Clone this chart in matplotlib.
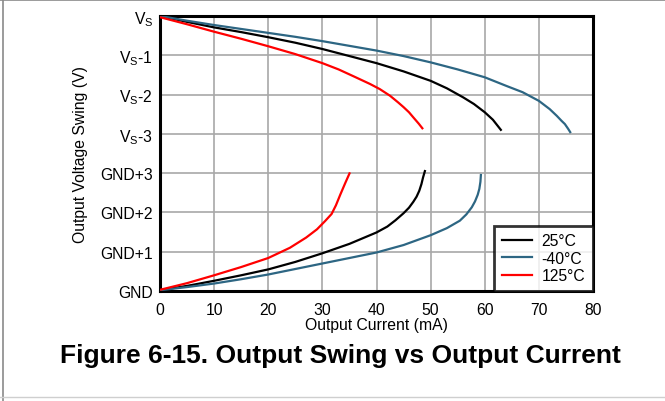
import matplotlib
matplotlib.use("Agg")
import matplotlib.pyplot as plt
from matplotlib.lines import Line2D

plt.rcParams['font.family'] = ['Liberation Sans', 'DejaVu Sans']
plt.rcParams['mathtext.fontset'] = 'custom'
plt.rcParams['mathtext.rm'] = 'Liberation Sans'

# ---- data (x: output current mA, y: 0=GND ... 7=Vs) ----
y_tick_labels = ['GND', 'GND+1', 'GND+2', 'GND+3',
                 r'V$_\mathregular{S}$-3', r'V$_\mathregular{S}$-2',
                 r'V$_\mathregular{S}$-1', r'V$_\mathregular{S}$']
x_ticks = [0, 10, 20, 30, 40, 50, 60, 70, 80]

# high side (sourcing)
hi_25_x = [0, 5, 10, 15, 20, 25, 30, 35, 40, 45, 50, 53, 56, 58, 60, 61.5, 63.1]
hi_25_y = [7.0, 6.85, 6.71, 6.59, 6.46, 6.32, 6.16, 5.98, 5.80, 5.59, 5.35, 5.16,
           4.93, 4.76, 4.55, 4.36, 4.08]
hi_m40_x = [0, 5, 10, 15, 20, 25, 30, 35, 40, 45, 50, 55, 60, 64, 67, 70, 72,
            73.3, 74.2, 74.8, 75.4, 75.9]
hi_m40_y = [7.0, 6.88, 6.77, 6.67, 6.57, 6.47, 6.36, 6.24, 6.12, 5.98, 5.82, 5.64,
            5.44, 5.22, 5.06, 4.84, 4.63, 4.46, 4.33, 4.25, 4.13, 4.02]
hi_125_x = [0, 5, 10, 15, 20, 25, 30, 33, 36, 38.8, 40.6, 42.5, 44, 45, 46, 46.8,
            47.8, 48.6]
hi_125_y = [6.97, 6.79, 6.60, 6.42, 6.23, 6.03, 5.80, 5.64, 5.45, 5.27, 5.14, 4.97,
            4.80, 4.68, 4.55, 4.42, 4.26, 4.12]

# low side (sinking)
lo_25_x = [0, 5, 10, 15, 20, 25, 30, 35, 40, 42, 43.5, 45, 46, 46.8, 47.4, 47.9,
           48.3, 48.6, 49.0]
lo_25_y = [0.02, 0.13, 0.26, 0.40, 0.55, 0.74, 0.96, 1.20, 1.49, 1.64, 1.80, 1.98,
           2.12, 2.27, 2.40, 2.55, 2.72, 2.89, 3.08]
lo_m40_x = [0, 5, 10, 15, 20, 25, 30, 35, 40, 45, 50, 53, 55.4, 56.6, 57.6, 58.2,
            58.7, 59.0, 59.2, 59.3]
lo_m40_y = [0.02, 0.10, 0.19, 0.30, 0.42, 0.56, 0.70, 0.84, 0.98, 1.17, 1.42, 1.60,
            1.79, 1.95, 2.13, 2.28, 2.45, 2.60, 2.78, 2.98]
lo_125_x = [0, 5, 10, 15, 20, 24, 27, 29, 30.5, 31.7, 32.5, 33.3, 34.2, 35.1]
lo_125_y = [0.03, 0.20, 0.40, 0.61, 0.84, 1.10, 1.36, 1.57, 1.78, 1.96, 2.18, 2.45,
            2.74, 3.02]

labels = ['25°C', '-40°C', '125°C']
colors = ['#000000', '#2d6683', '#ff0000']

W, H = 665, 402
FS = 11.3
fig = plt.figure(figsize=(W / 100, H / 100), dpi=100)
ax = fig.add_axes([160 / W, 1 - 292 / H, (593 - 160) / W, (292 - 17) / H])

series = [(hi_25_x, hi_25_y, lo_25_x, lo_25_y),
          (hi_m40_x, hi_m40_y, lo_m40_x, lo_m40_y),
          (hi_125_x, hi_125_y, lo_125_x, lo_125_y)]
for (hx, hy, lx, ly), c in zip(series, colors):
    for xs, ys in ((hx, hy), (lx, ly)):
        ax.plot(xs, ys, color=c, lw=1.6, zorder=3, solid_capstyle='butt',
                solid_joinstyle='round')

ax.set_xlim(0, 80)
ax.set_ylim(0, 7)
ax.set_xticks(x_ticks)
ax.set_xticklabels([str(v) for v in x_ticks], fontsize=FS)
ax.set_yticks(range(8))
ax.set_yticklabels(y_tick_labels, fontsize=FS)
ax.tick_params(axis='y', length=0, pad=5)
ax.tick_params(axis='x', length=0, pad=8)
ax.grid(True, color='#a8a8a8', lw=1.2)
ax.set_axisbelow(True)
for s in ax.spines.values():
    s.set_linewidth(2.2)
    s.set_color('black')

ax.set_xlabel('Output Current (mA)', fontsize=FS, labelpad=0)
ax.set_ylabel('Output Voltage Swing (V)', fontsize=FS, labelpad=9)

handles = [Line2D([0], [0], color=c, lw=1.6) for c in colors]
leg = ax.legend(handles, labels, loc='lower right', fontsize=FS,
                frameon=True, fancybox=False, borderaxespad=0,
                handlelength=1.95, handletextpad=0.6, labelspacing=0.15,
                borderpad=0.5)
leg.get_frame().set_edgecolor('black')
leg.get_frame().set_linewidth(2.0)

fig.text(340 / W, 1 - 356 / H, 'Figure 6-15. Output Swing vs Output Current',
         ha='center', va='center', fontsize=19, fontweight='bold')

# figure frame lines (left, top, bottom)
fig.add_artist(Line2D([3 / W, 3 / W], [0, 1], transform=fig.transFigure,
                      color='#8a8a8a', lw=1.2))
fig.add_artist(Line2D([0, 1], [1 - 0.5 / H, 1 - 0.5 / H], transform=fig.transFigure,
                      color='#8a8a8a', lw=1.2))
fig.add_artist(Line2D([0, 1], [1 - 398 / H, 1 - 398 / H], transform=fig.transFigure,
                      color='#cfcfcf', lw=1.0))

fig.savefig('out.png', dpi=100)
